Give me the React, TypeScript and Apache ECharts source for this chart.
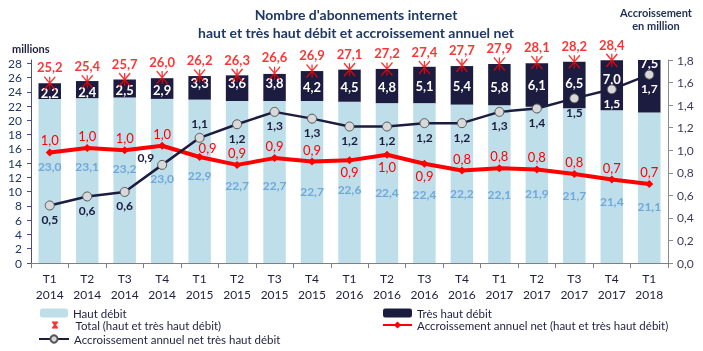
import React, { useEffect, useRef } from "react";
import * as echarts from "echarts";

const categories = [
  "T1\n2014", "T2\n2014", "T3\n2014", "T4\n2014",
  "T1\n2015", "T2\n2015", "T3\n2015", "T4\n2015",
  "T1\n2016", "T2\n2016", "T3\n2016", "T4\n2016",
  "T1\n2017", "T2\n2017", "T3\n2017", "T4\n2017",
  "T1\n2018",
];
const hautDebit = [23.0, 23.1, 23.2, 23.0, 22.9, 22.7, 22.7, 22.7, 22.6, 22.4, 22.4, 22.2, 22.1, 21.9, 21.7, 21.4, 21.1];
const tresHautDebit = [2.2, 2.4, 2.5, 2.9, 3.3, 3.6, 3.8, 4.2, 4.5, 4.8, 5.1, 5.4, 5.8, 6.1, 6.5, 7.0, 7.5];
const total = [25.2, 25.4, 25.7, 26.0, 26.2, 26.3, 26.6, 26.9, 27.1, 27.2, 27.4, 27.7, 27.9, 28.1, 28.2, 28.4, 28.6];
const accrTotal = [0.98, 1.02, 1.0, 1.04, 0.94, 0.87, 0.93, 0.9, 0.91, 0.96, 0.88, 0.82, 0.84, 0.83, 0.79, 0.74, 0.7];
const accrTHD = [0.51, 0.59, 0.63, 0.87, 1.11, 1.23, 1.34, 1.28, 1.21, 1.21, 1.24, 1.24, 1.34, 1.37, 1.46, 1.54, 1.67];
const leftTicks = [0, 2, 4, 6, 8, 10, 12, 14, 16, 18, 20, 22, 24, 26, 28];

// label placement tweaks (styling, not data)
const hautLabelDy = [-14, -14, -12, -2, -6, 3, 3, 9, 7, 9, 11, 10, 10, 9, 10, 15, 19];
const thdLabelDy = [2, 2, 1, 1, -5, -5, -4, 1, 1, 1, 1, 1, 2, 0, -2, -6, -23];
const accrTotalPos = ["top", "top", "top", "top", "top", "top", "top", "top", "bottom", "bottom", "bottom", "top", "top", "top", "top", "top", "top"];
const accrTHDPos = ["bottom", "bottom", "bottom", "left", "top", "bottom", "bottom", "bottom", "bottom", "bottom", "bottom", "bottom", "bottom", "bottom", "bottom", "bottom", "bottom"];

const FONT = "Lato";
const NAVY = "#1C1C40";
const RED = "#FF0000";
const fmt = (v: number) => v.toFixed(1).replace(".", ",");

export default function App() {
  const ref = useRef<HTMLDivElement>(null);
  useEffect(() => {
    if (!ref.current) return;
    const chart = echarts.init(ref.current, null, { renderer: "svg" });
    const legendText = { fontFamily: FONT, fontSize: 11.5, lineHeight: 12, color: "#1F1F3F" };
    const legendBase = { padding: 0, textStyle: legendText };
    const option: any = {
      animation: false,
      textStyle: { fontFamily: FONT },
      grid: { left: 31, right: 35, top: 60, bottom: 88 },
      graphic: [
        { type: "text", x: 356, y: 14, style: { text: "Nombre d'abonnements internet", font: `bold 14px ${FONT}`, lineHeight: 15, fill: "#1F3864", textAlign: "center", textVerticalAlign: "middle" } },
        { type: "text", x: 356, y: 32, style: { text: "haut et très haut débit et accroissement annuel net", font: `bold 14px ${FONT}`, lineHeight: 15, fill: "#1F3864", textAlign: "center", textVerticalAlign: "middle" } },
        { type: "text", x: 12, y: 48, style: { text: "millions", font: `bold 11px ${FONT}`, fill: "#1F1F3F", textAlign: "left", textVerticalAlign: "middle" } },
        { type: "text", x: 656, y: 12, style: { text: "Accroissement", font: `bold 11px ${FONT}`, lineHeight: 12, fill: "#1F2F4F", textAlign: "center", textVerticalAlign: "middle" } },
        { type: "text", x: 656, y: 25, style: { text: "en million", font: `bold 11px ${FONT}`, lineHeight: 12, fill: "#1F2F4F", textAlign: "center", textVerticalAlign: "middle" } },
      ],
      legend: [
        { ...legendBase, data: ["Haut débit"], left: 40, top: 307, itemWidth: 28, itemHeight: 9 },
        { ...legendBase, data: ["Très haut débit"], left: 383, top: 307, itemWidth: 29, itemHeight: 9 },
        {
          ...legendBase,
          data: [{ name: "Total (haut et très haut débit)", icon: "path://M0,0L5,7M5,0L0,7M2.5,0L2.5,7M18,3.5" }],
          left: 50, top: 319, itemWidth: 18, itemHeight: 7,
        },
        { ...legendBase, data: ["Accroissement annuel net (haut et très haut débit)"], left: 382, top: 319, itemWidth: 29, itemHeight: 9 },
        { ...legendBase, data: ["Accroissement annuel net très haut débit"], left: 38, top: 333, itemWidth: 30, itemHeight: 9 },
      ],
      xAxis: {
        type: "category",
        data: categories,
        axisLine: { lineStyle: { color: "#7F7F7F" } },
        axisTick: { show: true, length: 5, lineStyle: { color: "#7F7F7F" } },
        axisLabel: { color: "#1F1F3F", fontSize: 12, lineHeight: 16, margin: 7, fontFamily: FONT },
      },
      yAxis: [
        {
          type: "value", min: 0, max: 28.45,
          axisLine: { show: true, lineStyle: { color: "#4B4B8F" } },
          axisTick: { show: true, length: 4, customValues: leftTicks, lineStyle: { color: "#4B4B8F" } },
          axisLabel: { customValues: leftTicks, color: "#1F3864", fontSize: 12, margin: 9, fontFamily: FONT },
          splitLine: { show: false },
        },
        {
          type: "value", min: 0, max: 1.8, interval: 0.2, position: "right",
          axisLine: { show: true, lineStyle: { color: "#8C8C8C" } },
          axisTick: { show: true, length: 5, lineStyle: { color: "#8C8C8C" } },
          axisLabel: { formatter: (v: number) => fmt(v), color: "#3B3B5B", fontSize: 12, margin: 9, fontFamily: FONT },
          splitLine: { show: false },
        },
      ],
      series: [
        {
          name: "Haut débit", type: "bar", stack: "t", barWidth: "60%",
          itemStyle: { color: "#BEDFE9" },
          label: { show: true, position: "inside", color: "#6FA8DC", fontWeight: "bold", fontSize: 12, lineHeight: 13, fontFamily: FONT, formatter: (p: any) => fmt(p.value) },
          data: hautDebit.map((v, i) => ({ value: v, label: { offset: [0, hautLabelDy[i]] } })),
        },
        {
          name: "Très haut débit", type: "bar", stack: "t", barWidth: "60%",
          itemStyle: { color: NAVY },
          label: { show: true, position: "inside", color: "#FFFFFF", fontWeight: "bold", fontSize: 13, lineHeight: 14, fontFamily: FONT, formatter: (p: any) => fmt(p.value) },
          data: tresHautDebit.map((v, i) => ({ value: v, label: { offset: [0, thdLabelDy[i]] } })),
        },
        {
          name: "Total (haut et très haut débit)", type: "scatter",
          symbol: "path://M0,0L10,13M10,0L0,13M5,0L5,13", symbolSize: [11, 13], z: 6,
          itemStyle: { color: "none", borderColor: RED, borderWidth: 1.4 },
          label: { show: true, position: "top", distance: 0, color: RED, fontWeight: "bold", fontSize: 13, lineHeight: 13, fontFamily: FONT, formatter: (p: any) => fmt(p.value) },
          data: total,
        },
        {
          name: "Accroissement annuel net (haut et très haut débit)", type: "line", yAxisIndex: 1, z: 4,
          symbol: "diamond", symbolSize: 8,
          lineStyle: { color: RED, width: 4 }, itemStyle: { color: RED },
          label: { show: true, color: RED, fontSize: 13, lineHeight: 12, fontFamily: FONT, distance: 2, formatter: (p: any) => fmt(p.value) },
          data: accrTotal.map((v, i) => ({
            value: v,
            label: { position: accrTotalPos[i], offset: i === 4 ? [8, 3] : [0, 0] },
          })),
        },
        {
          name: "Accroissement annuel net très haut débit", type: "line", yAxisIndex: 1, z: 5,
          symbol: "circle", symbolSize: 9,
          lineStyle: { color: NAVY, width: 2.5 },
          itemStyle: { color: "#D9D9D9", borderColor: "#555555", borderWidth: 1 },
          label: { show: true, color: NAVY, fontWeight: "bold", fontSize: 12, lineHeight: 12, fontFamily: FONT, distance: 3, formatter: (p: any) => fmt(p.value) },
          data: accrTHD.map((v, i) => ({
            value: v,
            label: {
              position: accrTHDPos[i],
              offset: i === 3 ? [0, -7] : [0, 0],
              color: i >= 15 ? "#FFFFFF" : NAVY,
            },
          })),
        },
      ],
    };
    chart.setOption(option);
    return () => chart.dispose();
  }, []);
  return <div ref={ref} style={{ position: "fixed", left: 0, top: 0, width: 703, height: 351 }} />;
}
